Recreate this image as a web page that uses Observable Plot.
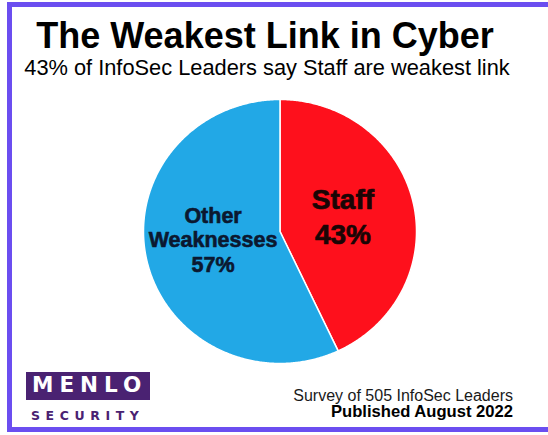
<!DOCTYPE html>
<html>
<head>
<meta charset="utf-8">
<script src="https://cdn.jsdelivr.net/npm/d3@7"></script>
<script src="https://cdn.jsdelivr.net/npm/@observablehq/plot@0.6"></script>
<style>
  html, body { margin: 0; padding: 0; background: #fff; }
  #frame { position: relative; width: 548px; height: 435px; overflow: hidden; background: #fff; font-family: "Liberation Sans", Arial, sans-serif; }
  #chart { position: absolute; left: 0; top: 0; }
  .abs { position: absolute; line-height: 1; white-space: nowrap; color: #000; }
</style>
</head>
<body>
<div id="frame">
  <div id="chart"></div>
  <div class="abs" style="left:7px;top:2px;width:600px;height:430px;box-sizing:border-box;border:5px solid #6b4ef0;"></div>
  <div class="abs" id="title" style="left:0;width:530px;text-align:center;top:17.5px;font-size:36px;font-weight:bold;">The Weakest Link in Cyber</div>
  <div class="abs" id="subtitle" style="left:0;width:534px;text-align:center;top:56.5px;font-size:21.8px;">43% of InfoSec Leaders say Staff are weakest link</div>
  <div class="abs" id="cap1" style="right:35px;top:387.5px;font-size:16px;color:#1a1a1a;">Survey of 505 InfoSec Leaders</div>
  <div class="abs" id="cap2" style="right:35px;top:404px;font-size:16.6px;font-weight:bold;">Published August 2022</div>
  <div class="abs" id="logo" style="left:26px;top:372px;width:124px;height:28px;background:#4a2272;"></div>
  <div class="abs" style="left:32px;top:373.5px;font-family:'DejaVu Sans',sans-serif;font-weight:bold;font-size:21.5px;letter-spacing:6px;color:#fff;">MENLO</div>
  <div class="abs" style="left:31px;top:409.5px;font-family:'DejaVu Sans',sans-serif;font-weight:bold;font-size:12.5px;letter-spacing:5.6px;color:#4a2272;">SECURITY</div>
</div>
<script>
const categories = ["Staff", "Other Weaknesses"];
const values = [43, 57];
const labels = ["Staff\n43%", "Other\nWeaknesses\n57%"];
const colors = ["#fe101c", "#22a8e6"];

const data = categories.map((c, i) => ({cat: c, value: values[i], label: labels[i]}));
const arcs = d3.pie().sort(null).value(d => d.value)(data);

// polygon outline of each slice, derived from the pie angles
const rows = [];
for (const a of arcs) {
  rows.push({cat: a.data.cat, x: 0, y: 0});
  const n = Math.ceil((a.endAngle - a.startAngle) / (Math.PI / 360));
  for (let k = 0; k <= n; k++) {
    const t = a.startAngle + (a.endAngle - a.startAngle) * k / n;
    rows.push({cat: a.data.cat, x: Math.sin(t), y: Math.cos(t)});
  }
}
const labelRows = arcs.map(a => {
  const m = (a.startAngle + a.endAngle) / 2;
  return {cat: a.data.cat, text: a.data.label, x: 0.48 * Math.sin(m), y: 0.48 * Math.cos(m)};
});

const chart = Plot.plot({
  width: 548,
  height: 435,
  margin: 0,
  style: {background: "none", fontFamily: "Liberation Sans, Arial, sans-serif"},
  x: {domain: [-1, 1], range: [143, 416], axis: null},
  y: {domain: [-1, 1], range: [363, 99], axis: null},
  color: {domain: categories, range: colors},
  marks: [
    Plot.line(rows, {x: "x", y: "y", z: "cat", fill: "cat", stroke: "white", strokeWidth: 1.5, curve: "linear-closed"}),
    Plot.text(labelRows.filter(d => d.cat === "Staff"), {
      x: "x", y: "y", text: "text", fontSize: 28, fontWeight: "bold", fill: "#1a0505", stroke: "#1a0505", strokeWidth: 0.7,
      lineHeight: 1.25, textAnchor: "middle", lineAnchor: "middle", dx: -1, dy: -2
    }),
    Plot.text(labelRows.filter(d => d.cat !== "Staff"), {
      x: "x", y: "y", text: "text", fontSize: 21.5, fontWeight: "bold", fill: "#0b1830", stroke: "#0b1830", strokeWidth: 0.6,
      lineHeight: 1.14, textAnchor: "middle", lineAnchor: "middle", dx: -3, dy: -6
    })
  ]
});
document.getElementById("chart").appendChild(chart);
</script>
</body>
</html>
